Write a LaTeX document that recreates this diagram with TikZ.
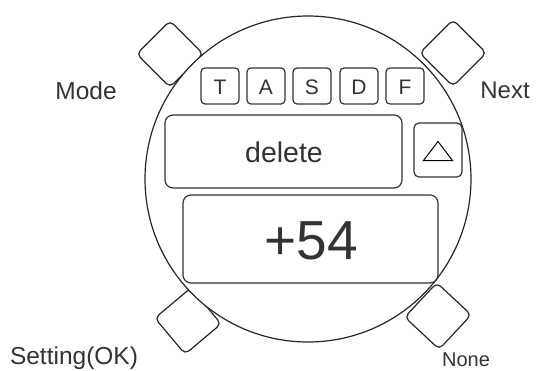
\documentclass[tikz,border=0pt]{standalone}
\usepackage{fontspec}
\setmainfont{Liberation Sans}
\usepackage{tikz}

\begin{document}
\begin{tikzpicture}
      [ x = 1pt, y = -1pt
      , line width = 1.2pt
      , every node/.style =
        { text = black!80, inner sep = 0pt }
      , dial/.style =
        { draw = black!85, fill = white, circle, minimum size = 326pt }
      , button/.style =
        { draw = black!85, fill = white, rounded corners = 5pt, minimum size = 47pt, rotate = 45 }
      , key/.style =
        { draw = black!80, rounded corners = 4pt, minimum width = 38pt, minimum height = 36pt }
      , keytext/.style =
        { anchor = base, font = \fontsize{21}{21}\selectfont }
      , panel/.style =
        { draw = black!80, rounded corners = 8pt }
      , caption/.style =
        { anchor = base }
      ]
      \useasboundingbox (0, 0) rectangle (536, 370);
      % buttons round the dial
      \node [button] (mode) at (170, 54) {};
      \node [button] (next) at (453, 53) {};
      \node [button, rotate = -5] (setting) at (188, 321) {};
      \node [button, rotate = 2] (none) at (438, 316) {};
      \node [dial] (watch) at (308, 179) {};
      % key row
      \node [key] (T) at (220, 86) {};
      \node [key] (A) at (266, 86) {};
      \node [key] (S) at (312, 86) {};
      \node [key] (D) at (359, 86) {};
      \node [key] (F) at (405, 86) {};
      \foreach \k in {T, A, S, D, F}
        \node [keytext] at ([shift = {(0, 8)}] \k.center) {\k};
      % display
      \node [panel, minimum width = 237pt, minimum height = 73pt] (delete) at (283.5, 151.5) {};
      \node [caption, font = \fontsize{28.5}{28.5}\selectfont] at (284, 162) {delete};
      \node [panel, rounded corners = 5pt, minimum width = 48pt, minimum height = 54pt] (up) at (438, 150) {};
      \draw [line width = 1pt] ([shift = {(-14.5, 10.5)}] up.center) -- ++(29, 0) -- ++(-14.5, -19) -- cycle;
      \node [panel, minimum width = 255pt, minimum height = 88pt] (value) at (310.5, 239) {};
      \node [caption, font = \fontsize{55}{55}\selectfont] at (311, 259) {+54};
      % labels
      \node [caption, font = \fontsize{24.5}{24.5}\selectfont] (modelabel) at (86, 99) {Mode};
      \node [caption, font = \fontsize{24}{24}\selectfont] (nextlabel) at (505, 98) {Next};
      \node [caption, font = \fontsize{24.5}{24.5}\selectfont] (settinglabel) at (74, 364) {Setting(OK)};
      \node [caption, font = \fontsize{20}{20}\selectfont] (nonelabel) at (466, 366) {None};
    \end{tikzpicture}
\end{document}
